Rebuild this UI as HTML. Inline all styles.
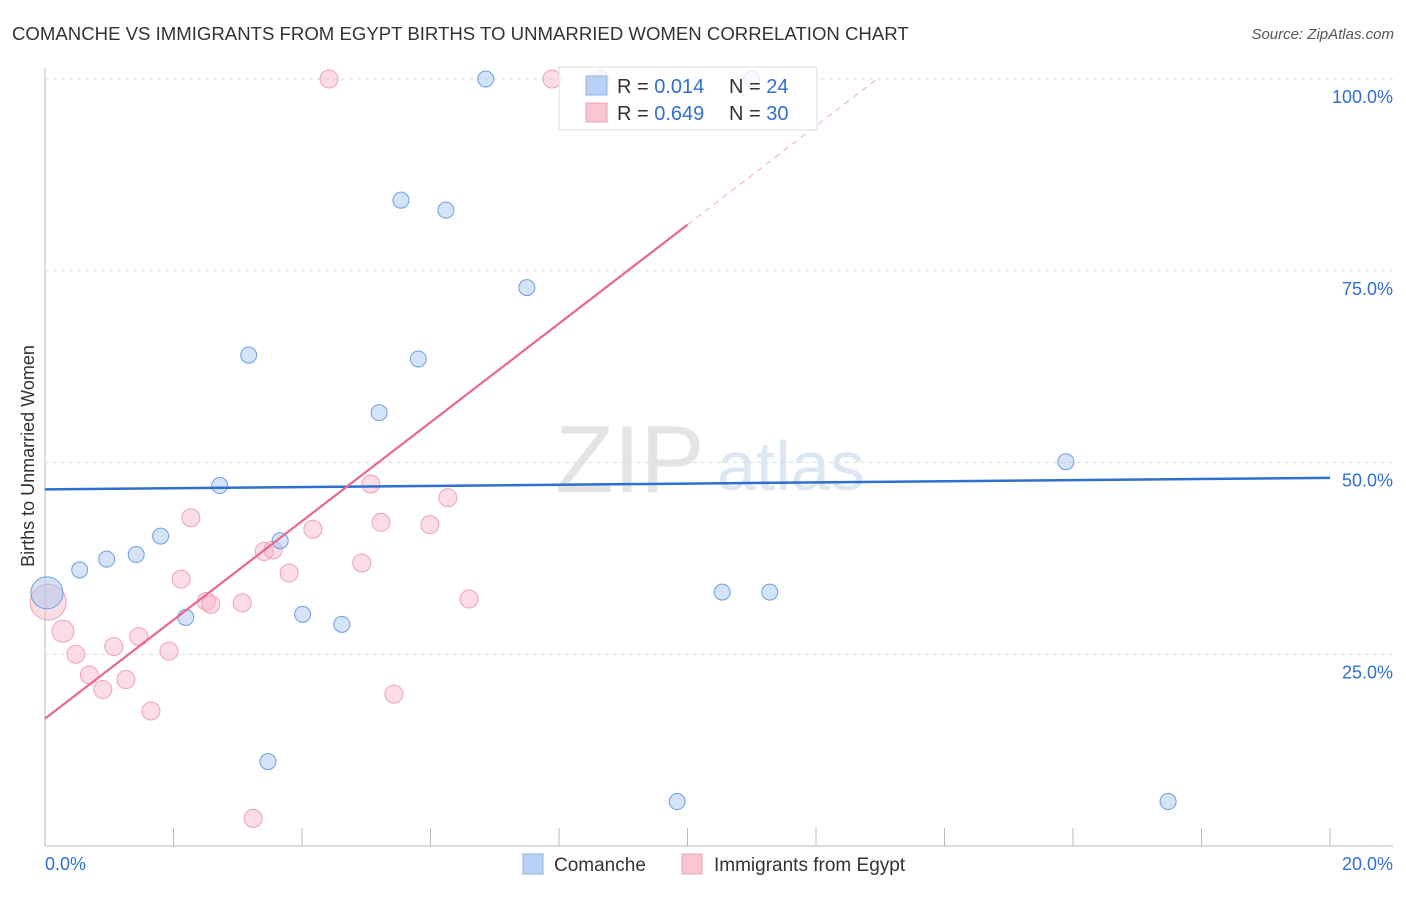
<!DOCTYPE html>
<html><head><meta charset="utf-8"><style>
body{margin:0;background:#fff;font-family:"Liberation Sans",sans-serif;}
svg text{font-family:"Liberation Sans",sans-serif;}
</style></head><body>
<svg id="c" width="1406" height="892">
<text x="12" y="40" font-size="18.6" fill="#333">COMANCHE VS IMMIGRANTS FROM EGYPT BIRTHS TO UNMARRIED WOMEN CORRELATION CHART</text>
<text x="1394" y="39" font-size="15" fill="#555" font-style="italic" text-anchor="end">Source: ZipAtlas.com</text>
<text transform="translate(34,456) rotate(-90)" font-size="18" fill="#333" text-anchor="middle">Births to Unmarried Women</text>
<text x="555" y="492" font-size="96" fill="#e4e4e4" font-family="Liberation Serif">ZIP</text>
<text x="717" y="490" font-size="70" fill="#dde6f3">atlas</text>
<g id="grid"></g><g id="pts"></g><g id="lines"></g>
<g>
<rect x="559" y="67" width="258" height="63" fill="#fff" fill-opacity="0.8" stroke="#ddd"/>
<rect x="586" y="76" width="21" height="19" fill="#b8d2f5" stroke="#8fb3e8"/>
<rect x="586" y="103" width="21" height="19" fill="#f9c6d4" stroke="#f0a0b8"/>
<text x="617" y="93" font-size="20" fill="#333">R = <tspan fill="#2f6fd1">0.014</tspan></text>
<text x="729" y="93" font-size="20" fill="#333">N = <tspan fill="#2f6fd1">24</tspan></text>
<text x="617" y="120" font-size="20" fill="#333">R = <tspan fill="#2f6fd1">0.649</tspan></text>
<text x="729" y="120" font-size="20" fill="#333">N = <tspan fill="#2f6fd1">30</tspan></text>
</g>
<g>
<rect x="523" y="854" width="20" height="20" fill="#b8d2f5" stroke="#8fb3e8"/>
<text x="554" y="871" font-size="19" fill="#333">Comanche</text>
<rect x="682" y="854" width="20" height="20" fill="#f9c6d4" stroke="#f0a0b8"/>
<text x="714" y="871" font-size="19" fill="#333">Immigrants from Egypt</text>
</g>
</svg>
<script>
const yTicks=[100,75,50,25];
const yTickLabels=["100.0%","75.0%","50.0%","25.0%"];
const xTickVals=[0,2,4,6,8,10,12,14,16,18,20];
const comancheX=[0.03,0.54,0.96,1.42,1.8,2.19,2.72,3.17,3.47,3.66,4.01,4.62,5.2,5.54,5.81,6.24,6.86,7.5,9.84,10.54,11.0,11.28,15.89,17.48];
const comancheY=[33,36,37.4,38,40.4,29.8,47,64,11,39.8,30.2,28.9,56.5,84.2,63.5,82.9,100,72.8,5.8,33.1,100,33.1,50.1,5.8];
const comancheR=[16,8,8,8,8,8,8,8,8,8,8,8,8,8,8,8,8,8,8,8,8,8,8,8];
const egyptX=[0.05,0.28,0.48,0.69,0.9,1.07,1.26,1.46,1.65,1.93,2.12,2.27,2.51,2.58,3.07,3.24,3.41,3.55,3.8,4.17,4.42,4.93,5.07,5.23,5.43,5.99,6.27,6.6,7.89,8.64];
const egyptY=[31.8,28,25,22.3,20.4,26,21.7,27.3,17.6,25.4,34.8,42.8,31.9,31.5,31.7,3.6,38.4,38.6,35.6,41.3,100,36.9,47.2,42.2,19.8,41.9,45.4,32.2,100,100];
const egyptR=[18,11,9,9,9,9,9,9,9,9,9,9,9,9,9,9,9,9,9,9,9,9,9,9,9,9,9,9,9,9];
const blueLine=[46.5,48.0];
const pinkLine=[16.6,6.44];
const X=v=>45+v*64.25, Y=v=>846-v*7.67;
const ns="http://www.w3.org/2000/svg";
function mk(t,a,p){const e=document.createElementNS(ns,t);for(const k in a)e.setAttribute(k,a[k]);p.appendChild(e);return e;}
const g=document.getElementById('grid');
mk('line',{x1:45,y1:68,x2:45,y2:846,stroke:'#bbb'},g);
mk('line',{x1:45,y1:846,x2:1393,y2:846,stroke:'#bbb'},g);
yTicks.forEach((v,i)=>{
 const l=mk('line',{x1:45,y1:Y(v),x2:1393,y2:Y(v),stroke:'#ddd','stroke-dasharray':'4,4'},g);
 
 
 const t=mk('text',{x:1393,y:Y(v)+24,'font-size':18,fill:'#2f6fd1','text-anchor':'end'},g);t.textContent=yTickLabels[i];
 
 
});
xTickVals.forEach(v=>{if(v>0){const l=mk('line',{x1:X(v),y1:828,x2:X(v),y2:846,stroke:'#bbb'},g);
 
 }});
let t=mk('text',{x:45,y:870,'font-size':18,fill:'#2f6fd1'},g);t.textContent='0.0%';


t=mk('text',{x:1393,y:870,'font-size':18,fill:'#2f6fd1','text-anchor':'end'},g);t.textContent='20.0%';


const p=document.getElementById('pts');
egyptX.forEach((x,i)=>{const c=mk('circle',{cx:X(x),cy:Y(egyptY[i]),r:egyptR[i],fill:'rgba(248,180,200,0.45)',stroke:'#eea0b6','stroke-width':1},p);
 
 });
comancheX.forEach((x,i)=>{const c=mk('circle',{cx:X(x),cy:Y(comancheY[i]),r:comancheR[i],fill:'rgba(170,200,240,0.5)',stroke:'#6d9de0','stroke-width':1},p);
 
 });
const L=document.getElementById('lines');
let l=mk('line',{x1:X(0),y1:Y(blueLine[0]),x2:X(20),y2:Y(blueLine[1]),stroke:'#2f6fd1','stroke-width':2.5},L);


const xe=10, xd=(100-pinkLine[0])/pinkLine[1];
l=mk('line',{x1:X(0),y1:Y(pinkLine[0]),x2:X(xe),y2:Y(pinkLine[0]+pinkLine[1]*xe),stroke:'#e8668f','stroke-width':2.2},L);


l=mk('line',{x1:X(xe),y1:Y(pinkLine[0]+pinkLine[1]*xe),x2:X(xd),y2:Y(100),stroke:'#eeaabb','stroke-width':1,'stroke-dasharray':'6,5'},L);


</script>
</body></html>
